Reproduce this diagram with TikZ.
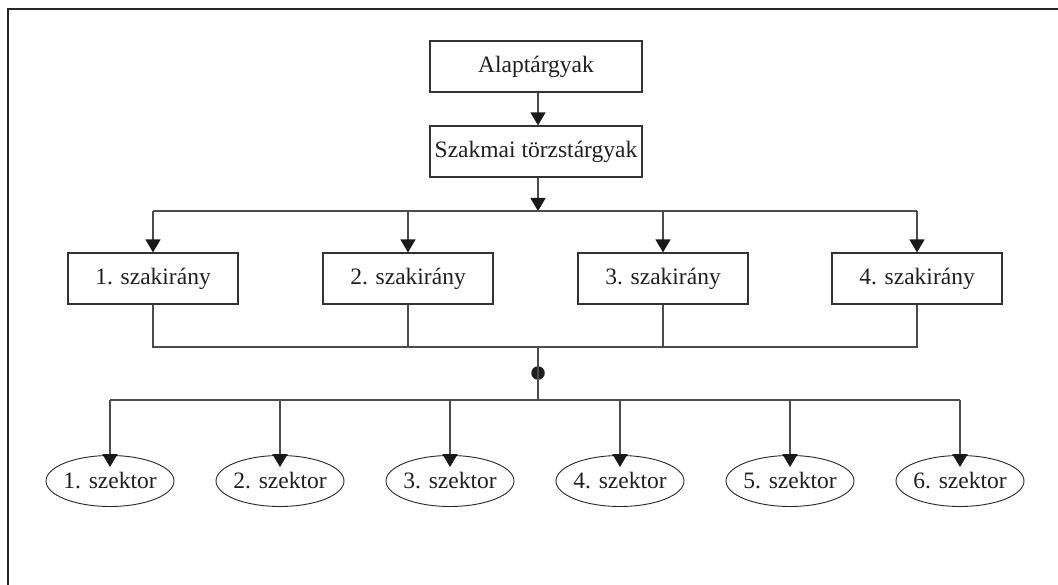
\documentclass[tikz,border=0pt]{standalone}
\usepackage{fontspec}
\setmainfont{Liberation Serif}
\usetikzlibrary{arrows.meta,shapes.geometric}
\begin{document}
\begin{tikzpicture}[x=1pt,y=-1pt,
  txt/.style={font=\fontsize{23.5}{27}\selectfont, text=black!88},
  box/.style={txt,draw=black!80,line width=1.2pt,inner sep=0pt,minimum height=51pt},
  topbox/.style={box,minimum width=212pt},
  dirbox/.style={box,minimum width=170pt},
  sect/.style={txt,ellipse,draw=black!85,line width=0.9pt,inner sep=-12pt,minimum width=128pt,minimum height=51pt},
  conn/.style={draw=black!70,line width=1.5pt},
  arr/.style={conn,-{Triangle[width=15pt,length=13pt,color=black!90,fill=black!90]}}]
\useasboundingbox (0,0) rectangle (1058,585);
\begin{scope}
\clip (0,0) rectangle (1058,585);
\draw[black!85,line width=2pt] (8,9) rectangle (1080,610);
\end{scope}
% top boxes
\node[topbox] (alap) at (536,66.5) {Alaptárgyak};
\node[topbox] (szak) at (536,151.5) {Szakmai törzstárgyak};
\coordinate (a1) at (538,92);
\coordinate (a2) at (538,126);
\draw[arr] (alap.south -| a1) -- (szak.north -| a2);
% first junction
\coordinate (j1) at (538,211);
\draw[arr] (szak.south -| j1) -- (j1);
% szakirány boxes
\node[dirbox] (d1) at (153,278.5) {1. szakirány};
\node[dirbox] (d2) at (408,278.5) {2. szakirány};
\node[dirbox] (d3) at (663,278.5) {3. szakirány};
\node[dirbox] (d4) at (917,278.5) {4. szakirány};
\draw[conn] (d1 |- j1) -- (d4 |- j1);
\foreach \d in {d1,d2,d3,d4} { \draw[arr] (\d |- j1) -- (\d.north); }
% collecting line
\coordinate (j2) at (538,347);
\draw[conn] (d1.south) |- (d4 |- j2) -- (d4.south);
\draw[conn] (d2.south) -- (d2 |- j2);
\draw[conn] (d3.south) -- (d3 |- j2);
% dot and lower line
\coordinate (j3) at (538,400);
\node[circle,fill=black!88,inner sep=0pt,minimum size=13.5pt] (dot) at (538,373) {};
\draw[conn] (j2) -- (j3);
% sectors
\node[sect] (e1) at (110,481) {1. szektor};
\node[sect] (e2) at (280,481) {2. szektor};
\node[sect] (e3) at (450,481) {3. szektor};
\node[sect] (e4) at (620,481) {4. szektor};
\node[sect] (e5) at (790,481) {5. szektor};
\node[sect] (e6) at (960,481) {6. szektor};
\draw[conn] (e1 |- j3) -- (e6 |- j3);
\foreach \e in {e1,e2,e3,e4,e5,e6} {
  \coordinate (t\e) at ([yshift=-12pt]\e.north);
  \draw[arr] (\e |- j3) -- (t\e);
}
\end{tikzpicture}
\end{document}
